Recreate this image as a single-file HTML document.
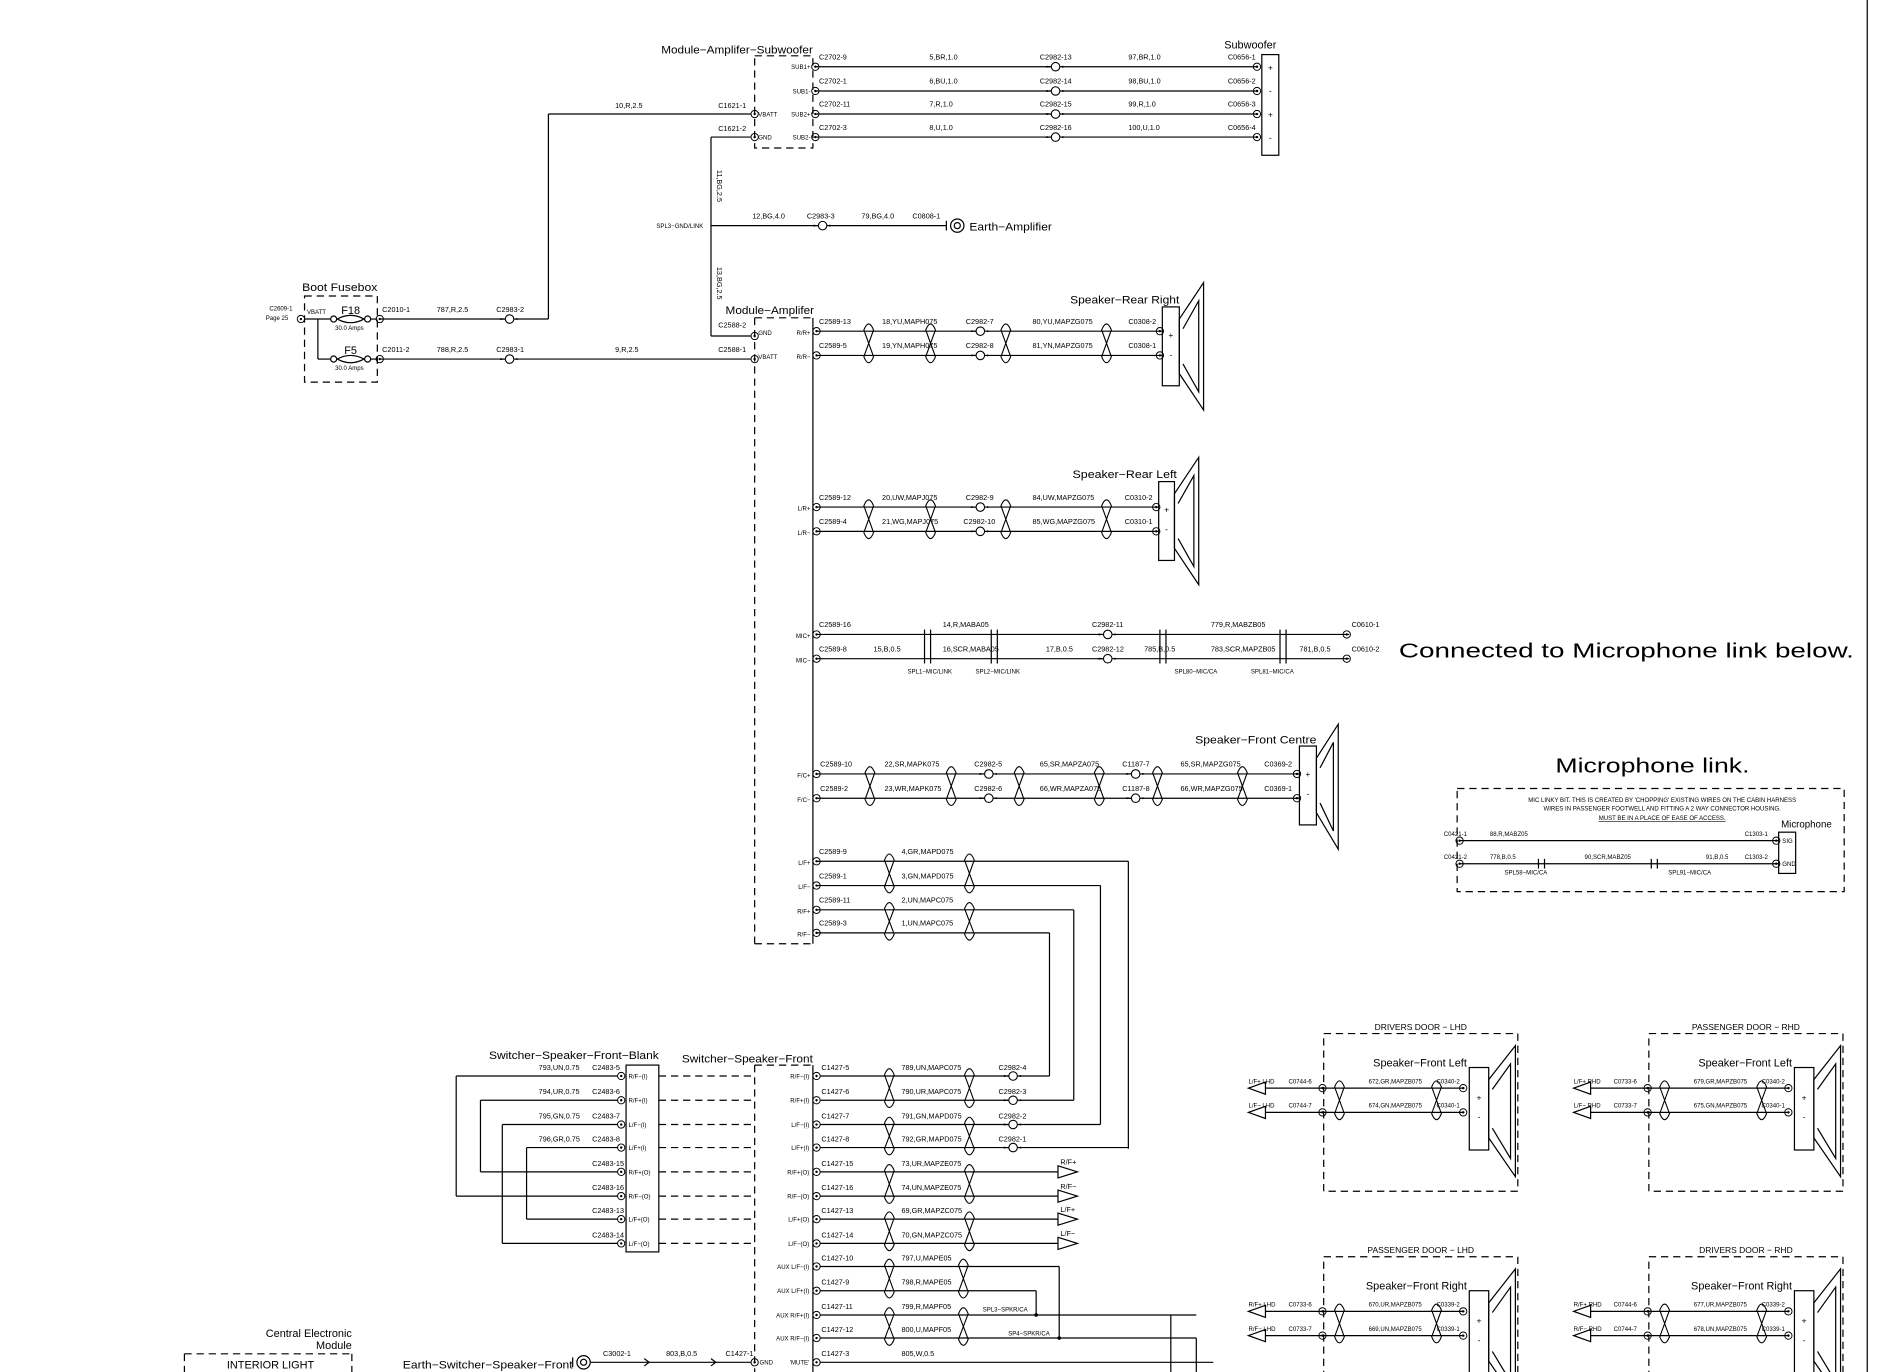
<!DOCTYPE html>
<html><head><meta charset="utf-8">
<style>
html,body{margin:0;padding:0;background:#fff;}
svg{display:block;}
text{font-family:"Liberation Sans",sans-serif;fill:#000;}
</style></head>
<body>
<svg id="s" xmlns="http://www.w3.org/2000/svg" width="1900" height="1372" viewBox="0 0 1566 1131" preserveAspectRatio="none">
<rect x="0" y="0" width="1566" height="1131" fill="#fff"/>
</svg>
<script>
var S=document.getElementById('s'),NS='http://www.w3.org/2000/svg';
function el(n,a,t){var e=document.createElementNS(NS,n);for(var k in a)e.setAttribute(k,a[k]);if(t!==undefined)e.textContent=t;S.appendChild(e);return e;}
function L(x1,y1,x2,y2,d){var a={x1:x1,y1:y1,x2:x2,y2:y2,stroke:'#000','stroke-width':1};if(d)a['stroke-dasharray']='6,4';el('line',a);}
function T(x,y,s,sz,o){o=o||{};var a={x:x,y:y,'font-size':sz||6};if(o.a)a['text-anchor']=o.a;if(o.w){a.textLength=o.w;a.lengthAdjust='spacingAndGlyphs';}if(o.r)a.transform='rotate(90 '+x+' '+y+')';if(o.u)a['text-decoration']='underline';el('text',a,s);}
function R(x,y,w,h,d){var a={x:x,y:y,width:w,height:h,fill:'none',stroke:'#000','stroke-width':1};if(d)a['stroke-dasharray']='6,4';el('rect',a);}
function C(x,y){el('circle',{cx:x,cy:y,r:3,fill:'none',stroke:'#000','stroke-width':0.8});el('circle',{cx:x,cy:y,r:1,fill:'#000'});}
function C2(x,y){el('circle',{cx:x,cy:y,r:3.5,fill:'#fff',stroke:'#000','stroke-width':0.9});L(x-8,y,x-4,y);el('circle',{cx:x-7,cy:y,r:0.8,fill:'#000'});el('circle',{cx:x+6,cy:y,r:0.8,fill:'#000'});}
function TW(x,y1,y2){el('path',{d:'M'+(x-4)+','+(y1-1)+' Q'+x+','+(y1-11)+' '+(x+4)+','+(y1-1)+' L'+(x-4)+','+(y2+1)+' Q'+x+','+(y2+11)+' '+(x+4)+','+(y2+1)+' Z',fill:'none',stroke:'#000','stroke-width':0.9});}
function EARTH(x,y){el('circle',{cx:x,cy:y,r:5.5,fill:'none',stroke:'#000'});el('circle',{cx:x,cy:y,r:2.5,fill:'none',stroke:'#000'});L(x-9,y-4,x-9,y+4);}
function SPK(x,y,w,h,cx,top,bot){R(x,y,w,h);el('polygon',{points:(x+w)+','+(y+10)+' '+cx+','+top+' '+cx+','+bot+' '+(x+w)+','+(y+h-10),fill:'none',stroke:'#000'});el('polyline',{points:(x+w+3)+','+(y+18)+' '+(cx-4)+','+(top+15)+' '+(cx-4)+','+(bot-15)+' '+(x+w+3)+','+(y+h-18),fill:'none',stroke:'#000'});T(x+w/2,y+h/2-7,'+',7,{a:'middle'});T(x+w/2,y+h/2+9,'-',7,{a:'middle'});}
function ARR(x,y,l){el('polygon',{points:x+','+(y-5)+' '+(x+16)+','+y+' '+x+','+(y+5),fill:'#fff',stroke:'#000'});}
function ARRL(x,y){el('polygon',{points:(x+14)+','+(y-5)+' '+x+','+y+' '+(x+14)+','+(y+5),fill:'#fff',stroke:'#000'});}

L(1539,0,1539,1131);

T(545,44,'Module\u2212Amplifer\u2212Subwoofer',9,{w:125});
R(622,46,48,76,true);
var sub=[[55,'SUB1+','C2702-9','5,BR,1.0','C2982-13','97,BR,1.0','C0656-1'],[75,'SUB1-','C2702-1','6,BU,1.0','C2982-14','98,BU,1.0','C0656-2'],[94,'SUB2+','C2702-11','7,R,1.0','C2982-15','99,R,1.0','C0656-3'],[113,'SUB2-','C2702-3','8,U,1.0','C2982-16','100,U,1.0','C0656-4']];
sub.forEach(function(r){var y=r[0];L(672,y,1037,y);C(672,y);C2(870,y);C(1036,y);T(668,y+2,r[1],5,{a:'end'});T(675,y-6,r[2]);T(766,y-6,r[3]);T(857,y-6,r[4]);T(930,y-6,r[5]);T(1012,y-6,r[6]);});
R(1040,45,14,83);T(1047,58,'+',7,{a:'middle'});T(1047,77,'-',7,{a:'middle'});T(1047,97,'+',7,{a:'middle'});T(1047,116,'-',7,{a:'middle'});
T(1009,40,'Subwoofer',9);
L(452,94,619,94);C(622,94);T(625,96,'VBATT',5);T(507,89,'10,R,2.5');T(592,89,'C1621-1');
L(586,113,619,113);C(622,113);T(625,115,'GND',5);T(592,108,'C1621-2');
L(452,94,452,263);
L(586,113,586,277);L(586,277,619,277);
T(591,140,'11,BG,2.5',6,{r:1});T(591,220,'13,BG,2.5',6,{r:1});
L(586,186,780,186);C2(678,186);T(541,188,'SPL3\u2212GND/LINK',5);T(620,180,'12,BG,4.0');T(665,180,'C2983-3');T(710,180,'79,BG,4.0');T(752,180,'C0808-1');
EARTH(789,186);T(799,190,'Earth\u2212Amplifier',9,{w:68});

T(249,240,'Boot  Fusebox',9,{w:62});
R(251,244,60,71,true);
T(222,256,'C2609-1',5);T(219,264,'Page 25',5);C(248,263);T(253,259,'VBATT',5);
L(251,263,272,263);L(262,263,262,296);L(262,296,272,296);
[[263,'F18'],[296,'F5']].forEach(function(f,i){var y=f[0];el('circle',{cx:275,cy:y,r:2.5,fill:'none',stroke:'#000'});el('circle',{cx:303,cy:y,r:2.5,fill:'none',stroke:'#000'});el('path',{d:'M278,'+y+' Q289,'+(y-6)+' 300,'+y+' Q289,'+(y+6)+' 278,'+y,fill:'none',stroke:'#000'});L(305,y,311,y);T(289,y-4,f[1],9,{a:'middle'});T(288,y+9,'30.0  Amps',5,{a:'middle'});});
L(313,263,452,263);C(313,263);C2(420,263);T(315,257,'C2010-1');T(360,257,'787,R,2.5');T(409,257,'C2983-2');
L(313,296,619,296);C(313,296);C2(420,296);T(315,290,'C2011-2');T(360,290,'788,R,2.5');T(409,290,'C2983-1');T(507,290,'9,R,2.5');T(592,290,'C2588-1');
T(592,270,'C2588-2');C(622,277);C(622,296);T(625,276,'GND',5);T(625,296,'VBATT',5);

T(598,259,'Module\u2212Amplifer',9,{w:73});
L(622,262,670,262,true);L(622,262,622,778,true);L(622,778,670,778,true);L(670,262,670,778);

function row(y,x1,x2,labs,conns){L(x1,y,x2,y);C(x1,y);C(x2-2,y);labs.forEach(function(l){T(l[0],y-6,l[1]);});(conns||[]).forEach(function(c){C2(c,y);});}
row(273,673,958,[[675,'C2589-13'],[727,'18,YU,MAPH075'],[796,'C2982-7'],[851,'80,YU,MAPZG075'],[930,'C0308-2']],[808]);
row(293,673,958,[[675,'C2589-5'],[727,'19,YN,MAPH075'],[796,'C2982-8'],[851,'81,YN,MAPZG075'],[930,'C0308-1']],[808]);
[716,767,829,912].forEach(function(x){TW(x,273,293);});
T(668,276,'R/R+',5,{a:'end'});T(668,296,'R/R\u2212',5,{a:'end'});
T(882,250,'Speaker\u2212Rear  Right',9,{w:90});SPK(958,253,14,65,992,233,338);
row(418,673,955,[[675,'C2589-12'],[727,'20,UW,MAPJ075'],[796,'C2982-9'],[851,'84,UW,MAPZG075'],[927,'C0310-2']],[808]);
row(438,673,955,[[675,'C2589-4'],[727,'21,WG,MAPJ075'],[794,'C2982-10'],[851,'85,WG,MAPZG075'],[927,'C0310-1']],[808]);
[716,767,829,912].forEach(function(x){TW(x,418,438);});
T(668,421,'L/R+',5,{a:'end'});T(668,441,'L/R\u2212',5,{a:'end'});
T(884,394,'Speaker\u2212Rear  Left',9,{w:86});SPK(955,397,13,65,988,377,482);
row(523,673,1112,[[675,'C2589-16'],[777,'14,R,MABA05'],[900,'C2982-11'],[998,'779,R,MABZB05'],[1114,'C0610-1']],[913]);
row(543,673,1112,[[675,'C2589-8'],[720,'15,B,0.5'],[777,'16,SCR,MABA05'],[862,'17,B,0.5'],[900,'C2982-12'],[943,'785,B,0.5'],[998,'783,SCR,MAPZB05'],[1071,'781,B,0.5'],[1114,'C0610-2']],[913]);
[762,817,956,1055].forEach(function(x){L(x,519,x,547);L(x+5,519,x+5,547);});
T(748,555,'SPL1\u2212MIC/LINK',5);T(804,555,'SPL2\u2212MIC/LINK',5);T(968,555,'SPL80\u2212MIC/CA',5);T(1031,555,'SPL81\u2212MIC/CA',5);
T(668,526,'MIC+',5,{a:'end'});T(668,546,'MIC\u2212',5,{a:'end'});
T(1153,542,'Connected  to  Microphone  link  below.',17,{w:375});
row(638,673,1071,[[676,'C2589-10'],[729,'22,SR,MAPK075'],[803,'C2982-5'],[857,'65,SR,MAPZA075'],[925,'C1187-7'],[973,'65,SR,MAPZG075'],[1042,'C0369-2']],[815,936]);
row(658,673,1071,[[676,'C2589-2'],[729,'23,WR,MAPK075'],[803,'C2982-6'],[857,'66,WR,MAPZA075'],[925,'C1187-8'],[973,'66,WR,MAPZG075'],[1042,'C0369-1']],[815,936]);
[717,784,840,906,954,1024].forEach(function(x){TW(x,638,658);});
T(668,641,'F/C+',5,{a:'end'});T(668,661,'F/C\u2212',5,{a:'end'});
T(985,613,'Speaker\u2212Front  Centre',9,{w:100});SPK(1071,615,14,65,1103,597,700);
var lf=[[710,930,'C2589-9','4,GR,MAPD075','L/F+'],[730,907,'C2589-1','3,GN,MAPD075','L/F\u2212'],[750,885,'C2589-11','2,UN,MAPC075','R/F+'],[769,865,'C2589-3','1,UN,MAPC075','R/F\u2212']];
var by={930:947,907:927,885:907,865:887};
lf.forEach(function(r){var y=r[0];L(673,y,r[1],y);C(673,y);T(675,y-6,r[2]);T(743,y-6,r[3]);T(668,y+3,r[4],5,{a:'end'});L(r[1],y,r[1],by[r[1]]);});
TW(733,710,730);TW(799,710,730);TW(733,750,769);TW(799,750,769);

T(403,873,'Switcher\u2212Speaker\u2212Front\u2212Blank',9,{w:140});
T(562,876,'Switcher\u2212Speaker\u2212Front',9,{w:108});
R(516,878,27,154);
L(622,878,670,878,true);L(622,878,622,1131,true);L(670,878,670,1131);
var sw=[
[887,'R/F\u2212(I)','793,UN,0.75','C2483-5','C1427-5','789,UN,MAPC075','C2982-4',865],
[907,'R/F+(I)','794,UR,0.75','C2483-6','C1427-6','790,UR,MAPC075','C2982-3',885],
[927,'L/F\u2212(I)','795,GN,0.75','C2483-7','C1427-7','791,GN,MAPD075','C2982-2',907],
[946,'L/F+(I)','796,GR,0.75','C2483-8','C1427-8','792,GR,MAPD075','C2982-1',930],
[966,'R/F+(O)','','C2483-15','C1427-15','73,UR,MAPZE075','R/F+',0],
[986,'R/F\u2212(O)','','C2483-16','C1427-16','74,UN,MAPZE075','R/F\u2212',0],
[1005,'L/F+(O)','','C2483-13','C1427-13','69,GR,MAPZC075','L/F+',0],
[1025,'L/F\u2212(O)','','C2483-14','C1427-14','70,GN,MAPZC075','L/F\u2212',0]];
sw.forEach(function(r){var y=r[0];C(512,y);T(518,y+2,r[1],5);if(r[2])T(444,y-5,r[2]);T(488,y-5,r[3]);L(543,y,620,y,true);T(667,y+2,r[1],5,{a:'end'});C(673,y);T(677,y-5,r[4]);T(743,y-5,r[5]);
 if(r[7]){L(676,y,r[7],y);C2(835,y);T(823,y-5,r[6]);}else{L(676,y,872,y);ARR(872,y);T(874,y-6,r[6],6);}});
[[887,986,376],[907,966,396],[927,1025,414],[946,1005,434]].forEach(function(p){L(p[2],p[0],509,p[0]);L(p[2],p[1],509,p[1]);L(p[2],p[0],p[2],p[1]);});
[[887,907],[927,946],[966,986],[1005,1025]].forEach(function(p){TW(733,p[0],p[1]);TW(799,p[0],p[1]);});
var aux=[[1044,'AUX  L/F\u2212(I)','C1427-10','797,U,MAPE05'],[1064,'AUX  L/F+(I)','C1427-9','798,R,MAPE05'],[1084,'AUX  R/F+(I)','C1427-11','799,R,MAPF05'],[1103,'AUX  R/F\u2212(I)','C1427-12','800,U,MAPF05']];
aux.forEach(function(r){var y=r[0];C(673,y);T(667,y+2,r[1],5,{a:'end'});T(677,y-5,r[2]);T(743,y-5,r[3]);});
L(676,1044,873,1044);L(873,1044,873,1103);L(676,1064,854,1064);L(854,1064,854,1084);
L(676,1084,986,1084);L(676,1103,986,1103);L(986,1103,986,1131);L(965,1084,965,1131);
el('circle',{cx:854,cy:1084,r:1.5,fill:'#000'});el('circle',{cx:873,cy:1103,r:1.5,fill:'#000'});
T(810,1081,'SPL3\u2212SPKR/CA',5);T(831,1101,'SP4\u2212SPKR/CA',5);
TW(733,1044,1064);TW(794,1044,1064);TW(733,1084,1103);TW(794,1084,1103);
C(673,1123);T(667,1125,"'MUTE'",5,{a:'end'});T(677,1118,'C1427-3');T(743,1118,'805,W,0.5');L(676,1123,1000,1123);
T(332,1128,'Earth\u2212Switcher\u2212Speaker\u2212Front',9,{w:140});EARTH(481,1123);L(487,1123,619,1123);C(622,1123);T(626,1125,'GND',5);
el('polyline',{points:'531,1120 535,1123 531,1126',fill:'none',stroke:'#000'});el('polyline',{points:'586,1120 590,1123 586,1126',fill:'none',stroke:'#000'});
T(497,1118,'C3002-1');T(549,1118,'803,B,0.5');T(598,1118,'C1427-1');
T(290,1102,'Central Electronic',9,{a:'end'});T(290,1112,'Module',9,{a:'end'});
L(152,1116,290,1116,true);L(152,1116,152,1131,true);L(290,1116,290,1131,true);T(187,1128,'INTERIOR LIGHT',9);

T(1282,637,'Microphone  link.',17,{w:160});
R(1201,650,319,85,true);
T(1370,661,"MIC LINKY BIT. THIS IS CREATED BY 'CHOPPING' EXISTING WIRES ON THE CABIN HARNESS",5,{a:'middle'});
T(1370,668,'WIRES IN PASSENGER FOOTWELL AND FITTING A 2 WAY CONNECTOR HOUSING.',5,{a:'middle'});
T(1370,676,'MUST BE IN A PLACE OF EASE OF ACCESS.',5,{a:'middle',u:1});
L(1203,693,1466,693);L(1203,712,1466,712);C(1203,693);C(1203,712);C(1464,693);C(1464,712);
T(1190,689,'C0421-1',5);T(1190,708,'C0421-2',5);T(1228,689,'88,R,MABZ05',5);T(1228,708,'778,B,0.5',5);T(1306,708,'90,SCR,MABZ05',5);T(1406,708,'91,B,0.5',5);T(1438,689,'C1303-1',5);T(1438,708,'C1303-2',5);
[1268,1361].forEach(function(x){L(x,708,x,716);L(x+5,708,x+5,716);});
T(1240,721,'SPL58\u2212MIC/CA',5);T(1375,721,'SPL91\u2212MIC/CA',5);
R(1466,686,14,34);T(1469,695,'SIG',5);T(1469,714,'GND',5);T(1468,682,'Microphone',8);

function door(bx,by,title,spk,r1,r2){R(bx,by,160,130,true);T(bx+80,by-3,title,7,{a:'middle'});
 var sx=bx+120,sy=by+28;SPK(sx,sy,16,68,sx+38,by+10,by+118);T(sx-2,by+27,spk,9,{a:'end'});
 [[by+45,r1],[by+65,r2]].forEach(function(r){var y=r[0],d=r[1];ARRL(bx-62,y);L(bx-48,y,sx-4,y);C(bx-1,y);C(sx-5,y);T(bx-62,y-4,d[0],5);T(bx-29,y-4,d[1],5);T(bx+37,y-4,d[2],5);T(bx+93,y-4,d[3],5);});
 TW(bx+13,by+45,by+65);TW(bx+93,by+45,by+65);}
door(1091,852,'DRIVERS  DOOR  \u2212  LHD','Speaker\u2212Front  Left',['L/F+  LHD','C0744-6','672,GR,MAPZB075','C0340-2'],['L/F\u2212  LHD','C0744-7','674,GN,MAPZB075','C0340-1']);
door(1359,852,'PASSENGER  DOOR  \u2212  RHD','Speaker\u2212Front  Left',['L/F+  RHD','C0733-6','679,GR,MAPZB075','C0340-2'],['L/F\u2212  RHD','C0733-7','675,GN,MAPZB075','C0340-1']);
door(1091,1036,'PASSENGER  DOOR  \u2212  LHD','Speaker\u2212Front  Right',['R/F+  LHD','C0733-6','670,UR,MAPZB075','C0339-2'],['R/F\u2212  LHD','C0733-7','669,UN,MAPZB075','C0339-1']);
door(1359,1036,'DRIVERS  DOOR  \u2212  RHD','Speaker\u2212Front  Right',['R/F+  RHD','C0744-6','677,UR,MAPZB075','C0339-2'],['R/F\u2212  RHD','C0744-7','678,UN,MAPZB075','C0339-1']);
</script>
</body></html>
